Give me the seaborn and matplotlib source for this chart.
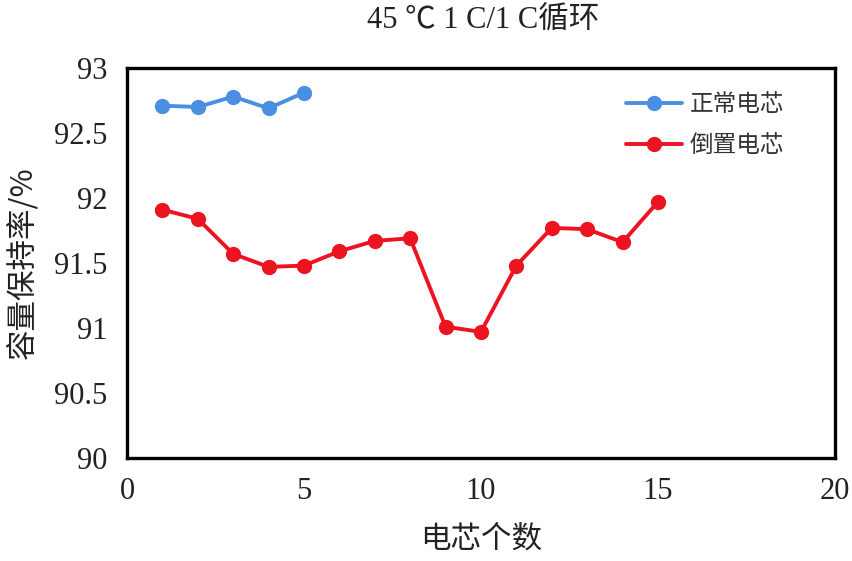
import matplotlib
matplotlib.use("Agg")
import matplotlib.pyplot as plt
import seaborn as sns
import pandas as pd

# capacity retention
normal_cells = [1, 2, 3, 4, 5]
normal_retention = [92.71, 92.70, 92.78, 92.69, 92.81]

inverted_cells = list(range(1, 16))
inverted_retention = [91.91, 91.84, 91.57, 91.47, 91.48, 91.59, 91.67, 91.69,
                      91.01, 90.97, 91.48, 91.77, 91.76, 91.66, 91.97]

series_names = ["正常电芯", "倒置电芯"]
series_colors = ["#4A8FE2", "#EB1420"]

x_ticks = [0, 5, 10, 15, 20]
y_ticks = [90, 90.5, 91, 91.5, 92, 92.5, 93]
y_tick_labels = ["90", "90.5", "91", "91.5", "92", "92.5", "93"]

df = pd.concat([
    pd.DataFrame({"cell": normal_cells, "retention": normal_retention, "group": series_names[0]}),
    pd.DataFrame({"cell": inverted_cells, "retention": inverted_retention, "group": series_names[1]}),
])

sns.set_theme(style="white")
plt.rcParams["font.family"] = ["Liberation Serif", "Noto Sans CJK SC", "DejaVu Sans"]

fig = plt.figure(figsize=(8.52, 5.61), dpi=100)
ax = fig.add_axes([0.149, 0.1836, 0.831, 0.6952])

sns.lineplot(data=df, x="cell", y="retention", hue="group", hue_order=series_names,
             palette=series_colors, marker="o", markersize=11, markeredgewidth=0,
             linewidth=2.8, ax=ax)

ax.set_xlim(0, 20)
ax.set_ylim(90, 93)
ax.set_xticks(x_ticks)
ax.set_yticks(y_ticks)
ax.set_yticklabels(y_tick_labels)
ax.tick_params(axis="both", length=0, labelsize=22, labelcolor="#222222")
ax.tick_params(axis="x", pad=14)
ax.tick_params(axis="y", pad=14)

for spine in ax.spines.values():
    spine.set_color("black")
    spine.set_linewidth(2.4)

ax.set_xlabel("电芯个数", fontsize=22, family=["Noto Sans CJK SC"], labelpad=12, color="#222222")
ax.set_ylabel("容量保持率/%", fontsize=22, family=["Noto Sans CJK SC"], labelpad=11, color="#222222")

fig.text(0.567, 0.962, "45 ℃ 1 C/1 C循环", ha="center", va="center", fontsize=22,
         family=["Liberation Serif", "Noto Sans CJK SC", "DejaVu Sans"], color="#222222")

leg = ax.legend(loc="upper right", bbox_to_anchor=(0.958, 0.99), frameon=False,
                prop={"family": ["Noto Sans CJK SC"], "size": 17},
                handlelength=2.4, labelspacing=0.75, handletextpad=0.3)
for t in leg.get_texts():
    t.set_color("#333333")

fig.savefig("out.png", dpi=100)
